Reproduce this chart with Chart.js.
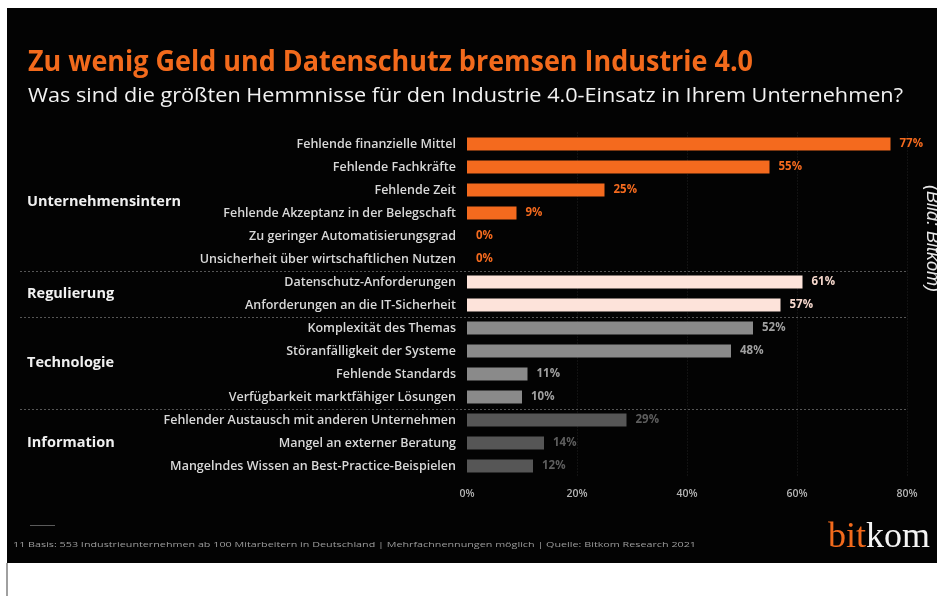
<!DOCTYPE html>
<html>
<head>
<meta charset="utf-8">
<script src="https://cdn.jsdelivr.net/npm/chart.js@4"></script>
<style>
html,body{margin:0;padding:0;background:#fff;width:937px;height:596px;overflow:hidden;position:relative;}
#panel{position:absolute;left:7px;top:8px;width:930px;height:555px;background:#030303;}
#edge{position:absolute;left:6px;top:563px;width:2px;height:33px;background:#a0a0a0;}
#chart{position:absolute;left:0;top:0;}
.t{position:absolute;white-space:nowrap;transform-origin:0 0;line-height:1;}
#title{left:21px;top:33px;font:700 28px 'Open Sans',sans-serif;color:#f26a1c;}
#subtitle{left:21px;top:73px;font:400 20px 'Open Sans',sans-serif;color:#f2f2f2;}
#footer{left:6px;top:530px;font:400 8px 'Open Sans',sans-serif;color:#9c9c9c;}
#fnline{position:absolute;left:23px;top:517px;width:25px;height:1px;background:#5a5a5a;}
#logo{left:821px;top:506px;font:400 36px 'Liberation Serif',serif;color:#f4f4f4;}
#logo span{color:#f26a1c;}
</style>
</head>
<body>
<div id="panel">
  <canvas id="chart" width="930" height="555"></canvas>
  <div class="t" id="title"></div>
  <div class="t" id="subtitle"></div>
  <div id="fnline"></div>
  <div class="t" id="footer"></div>
  <div class="t" id="logo"><span>bit</span>kom</div>
</div>
<div id="edge"></div>
<script>
// ---- data ----
const titleText = "Zu wenig Geld und Datenschutz bremsen Industrie 4.0";
const subtitleText = "Was sind die größten Hemmnisse für den Industrie 4.0-Einsatz in Ihrem Unternehmen?";
const footerText = "11 Basis: 553 Industrieunternehmen ab 100 Mitarbeitern in Deutschland | Mehrfachnennungen möglich | Quelle: Bitkom Research 2021";
const creditText = "(Bild: Bitkom)";
const categories = [
  "Fehlende finanzielle Mittel",
  "Fehlende Fachkräfte",
  "Fehlende Zeit",
  "Fehlende Akzeptanz in der Belegschaft",
  "Zu geringer Automatisierungsgrad",
  "Unsicherheit über wirtschaftlichen Nutzen",
  "Datenschutz-Anforderungen",
  "Anforderungen an die IT-Sicherheit",
  "Komplexität des Themas",
  "Störanfälligkeit der Systeme",
  "Fehlende Standards",
  "Verfügbarkeit marktfähiger Lösungen",
  "Fehlender Austausch mit anderen Unternehmen",
  "Mangel an externer Beratung",
  "Mangelndes Wissen an Best-Practice-Beispielen"
];
const values = [77, 55, 25, 9, 0, 0, 61, 57, 52, 48, 11, 10, 29, 14, 12];
const groupNames = ["Unternehmensintern", "Regulierung", "Technologie", "Information"];
const groupSizes = [6, 2, 4, 3];
const xTicks = [0, 20, 40, 60, 80];

// ---- styles ----
const groupBarColors = ['#f46a1e', '#fde3da', '#8a8a8a', '#565656'];
const groupValueColors = ['#f46a1e', '#f6d8cd', '#a0a0a0', '#5e5e5e'];

// ---- texts ----
function fitText(id, txt, targetW) {
  const el = document.getElementById(id);
  if (txt !== null) el.textContent = txt;
  const w = el.getBoundingClientRect().width;
  el.style.transform = 'scaleX(' + (targetW / w) + ')';
}
fitText('title', titleText, 725);
fitText('subtitle', subtitleText, 875);
fitText('footer', footerText, 683);
fitText('logo', null, 102);

// ---- group index per row ----
const rowGroup = [];
groupSizes.forEach((n, g) => { for (let i = 0; i < n; i++) rowGroup.push(g); });

const decor = {
  id: 'decor',
  beforeDatasetsDraw(chart) {
    const { ctx, chartArea, scales: { x, y } } = chart;
    ctx.save();
    // faint vertical grid
    ctx.strokeStyle = '#222';
    ctx.lineWidth = 1;
    ctx.setLineDash([1, 2]);
    xTicks.slice(1).forEach(v => {
      const px = Math.round(x.getPixelForValue(v)) + 0.5;
      ctx.beginPath();
      ctx.moveTo(px, chartArea.top);
      ctx.lineTo(px, chartArea.bottom);
      ctx.stroke();
    });
    // group separators
    ctx.strokeStyle = '#555';
    ctx.setLineDash([2, 2]);
    let acc = 0;
    groupSizes.slice(0, -1).forEach(n => {
      acc += n;
      const py = Math.round((y.getPixelForValue(acc - 1) + y.getPixelForValue(acc)) / 2) + 0.5;
      ctx.beginPath();
      ctx.moveTo(13, py);
      ctx.lineTo(901, py);
      ctx.stroke();
    });
    ctx.setLineDash([]);
    // group labels
    ctx.fillStyle = '#f0f0f0';
    ctx.font = '700 14.5px "Open Sans"';
    ctx.textBaseline = 'middle';
    ctx.textAlign = 'left';
    acc = 0;
    groupSizes.forEach((n, g) => {
      const py = (y.getPixelForValue(acc) + y.getPixelForValue(acc + n - 1)) / 2;
      ctx.fillText(groupNames[g], 20, py);
      acc += n;
    });
    ctx.restore();
  },
  afterDatasetsDraw(chart) {
    const { ctx } = chart;
    const meta = chart.getDatasetMeta(0);
    ctx.save();
    ctx.font = '700 11.5px "Open Sans"';
    ctx.textBaseline = 'middle';
    ctx.textAlign = 'left';
    meta.data.forEach((bar, i) => {
      ctx.fillStyle = groupValueColors[rowGroup[i]];
      ctx.fillText(values[i] + '%', bar.x + 9, bar.y);
    });
    // rotated credit
    ctx.fillStyle = '#e8e8e8';
    ctx.font = 'italic 400 18px "Liberation Sans"';
    ctx.textBaseline = 'alphabetic';
    ctx.translate(920, 177);
    ctx.rotate(Math.PI / 2);
    ctx.fillText(creditText, 0, 0);
    ctx.restore();
  }
};

new Chart(document.getElementById('chart'), {
  type: 'bar',
  data: {
    labels: categories,
    datasets: [{
      data: values,
      backgroundColor: rowGroup.map(g => groupBarColors[g]),
      borderWidth: 0,
      barPercentage: 0.57,
      categoryPercentage: 1
    }]
  },
  options: {
    indexAxis: 'y',
    responsive: false,
    animation: false,
    layout: { padding: { left: 0, right: 30, top: 124.5, bottom: 0 } },
    plugins: { legend: { display: false }, tooltip: { enabled: false } },
    scales: {
      x: {
        min: 0, max: 80,
        afterBuildTicks: s => { s.ticks = xTicks.map(v => ({ value: v })); },
        grid: { display: false, drawTicks: false },
        border: { display: false },
        ticks: {
          color: '#b4b4b4',
          font: { family: 'Open Sans', size: 10.5, weight: '600' },
          padding: 10,
          maxRotation: 0,
          callback: v => v + '%'
        },
        afterFit: s => { s.height = 85.5; }
      },
      y: {
        grid: { display: false, drawTicks: false },
        border: { display: false },
        ticks: {
          color: '#d8d8d8',
          font: { family: 'Open Sans', size: 12.5, weight: '600' },
          padding: 11,
          autoSkip: false
        },
        afterFit: s => { s.width = 460; }
      }
    }
  },
  plugins: [decor]
});
</script>
</body>
</html>
